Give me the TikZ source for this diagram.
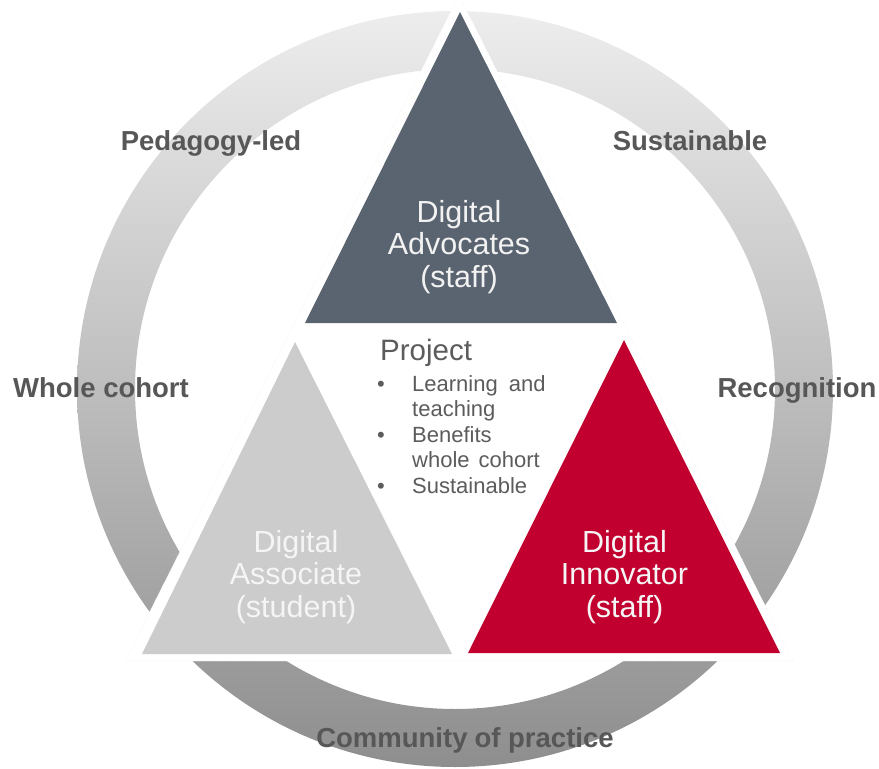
\documentclass[tikz,border=0pt]{standalone}
\usepackage{fontspec}
\setmainfont{Liberation Sans}
\definecolor{darktri}{HTML}{5A6470}
\definecolor{redtri}{HTML}{C20030}
\definecolor{greytri}{HTML}{CCCCCC}
\definecolor{labgrey}{HTML}{575757}
\definecolor{projgrey}{HTML}{5C5C5C}
\definecolor{ringtop}{HTML}{EDEDED}
\definecolor{ringmid}{HTML}{B8B8B8}
\definecolor{ringbot}{HTML}{8E8E8E}
\tikzset{
  ringlab/.style={font=\bfseries\fontsize{27.5}{30}\selectfont, text=labgrey, inner sep=0pt, anchor=base},
  tritext/.style={font=\fontsize{30.5}{32.5}\selectfont, align=center, inner sep=0pt},
  projtext/.style={font=\fontsize{22}{25}\selectfont, text=projgrey, inner sep=0pt, anchor=base west},
  bulletdot/.style={font=\fontsize{22}{25}\selectfont, text=projgrey, inner sep=0pt, anchor=base}
}
\begin{document}
\begin{tikzpicture}[x=1pt,y=-1pt]
\useasboundingbox (0,0) rectangle (879,769);
% ring
\shade[top color=ringtop, middle color=ringmid, bottom color=ringbot, even odd rule]
  (455,389) circle[radius=378pt] (455,389) circle[radius=320pt];
% white background triangle
\fill[white] (459,-5) -- (125,661) -- (793,661) -- cycle;
\draw[gray!15, line width=0.6pt, dotted] (459,-5) -- (125,661) -- (793,661) -- cycle;
% triangles
\fill[darktri] (460,12) -- (305,323) -- (617,323) -- cycle;
\fill[greytri] (295,342) -- (142,654) -- (452,654) -- cycle;
\fill[redtri] (624,340) -- (468,653) -- (780,653) -- cycle;
% triangle texts
\node[tritext, text=white!95!black] (adv) at (459,247) {Digital\\Advocates\\(staff)};
\node[tritext, text=white!96!black] (ass) at (296,577) {Digital\\Associate\\(student)};
\node[tritext, text=white!96!black] (inn) at (624.5,577) {Digital\\Innovator\\(staff)};
% ring labels
\node[ringlab] (ped) at (211,150) {Pedagogy-led};
\node[ringlab] (sus) at (690,150) {Sustainable};
\node[ringlab] (who) at (101,397) {Whole cohort};
\node[ringlab] (rec) at (797,397) {Recognition};
\node[ringlab] (com) at (465,747) {Community\hspace{7pt}of practice};
% project block
\node[projtext, font=\fontsize{29.5}{30}\selectfont] (proj) at (380,360) {Project};
\node[bulletdot] (d1) at (381,391) {•};
\node[bulletdot] (d2) at (381,442) {•};
\node[bulletdot] (d3) at (381,493) {•};
\node[projtext] (l1) at (412,391) {Learning\hspace{11pt}and};
\node[projtext] (l2) at (412,416.5) {teaching};
\node[projtext] (l3) at (412,442) {Benefits};
\node[projtext] (l4) at (412,467.5) {whole\hspace{9pt}cohort};
\node[projtext] (l5) at (412,493) {Sustainable};
\end{tikzpicture}
\end{document}
